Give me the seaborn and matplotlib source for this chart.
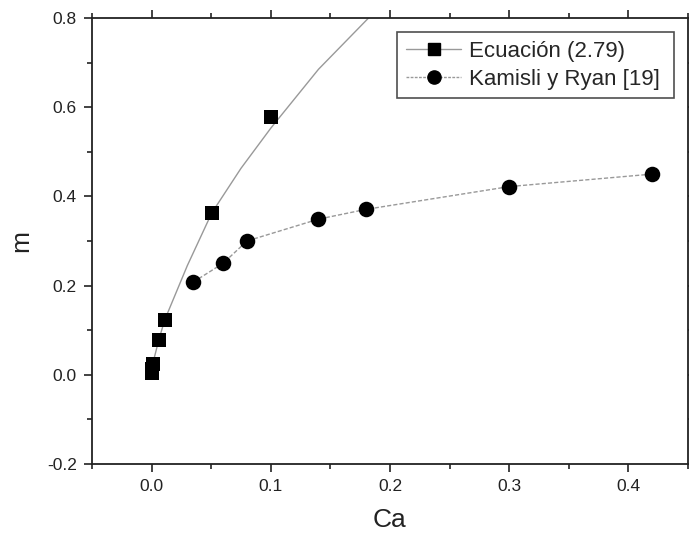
import matplotlib
matplotlib.use("Agg")
import matplotlib.pyplot as plt
from matplotlib.lines import Line2D
from matplotlib.ticker import MultipleLocator
import seaborn as sns
import pandas as pd

# Ecuación (2.79): markers
ecu_ca = [0.0001, 0.0005, 0.001, 0.006, 0.011, 0.0505, 0.1]
ecu_m = [0.003, 0.013, 0.025, 0.078, 0.123, 0.363, 0.578]
# Ecuación (2.79): curve
curve_ca = [0.0, 0.001, 0.006, 0.011, 0.03, 0.0505, 0.075, 0.1, 0.14, 0.182]
curve_m = [0.003, 0.025, 0.078, 0.123, 0.245, 0.363, 0.463, 0.553, 0.685, 0.80]
# Kamisli y Ryan [19]
kr_ca = [0.035, 0.06, 0.08, 0.14, 0.18, 0.30, 0.42]
kr_m = [0.208, 0.250, 0.300, 0.349, 0.371, 0.422, 0.450]

label_ecu = "Ecuación (2.79)"
label_kr = "Kamisli y Ryan [19]"

sns.set_style("ticks")
plt.rcParams["font.family"] = ["Liberation Sans", "DejaVu Sans"]

fig = plt.figure(figsize=(6.89, 5.39), dpi=100)
ax = fig.add_axes([92/689, 1-464/539, (688-92)/689, 446/539])

df_curve = pd.DataFrame({"Ca": curve_ca, "m": curve_m})
df_ecu = pd.DataFrame({"Ca": ecu_ca, "m": ecu_m})
df_kr = pd.DataFrame({"Ca": kr_ca, "m": kr_m})

sns.lineplot(data=df_curve, x="Ca", y="m", ax=ax, color="#999999", linewidth=1.0,
             sort=False, estimator=None)
sns.lineplot(data=df_kr, x="Ca", y="m", ax=ax, color="#999999", linewidth=1.0,
             linestyle=(0, (3, 1.5)), sort=False, estimator=None)
sns.scatterplot(data=df_ecu, x="Ca", y="m", ax=ax, marker="s", s=110, color="black",
                edgecolor="black", linewidth=0, zorder=5)
sns.scatterplot(data=df_kr, x="Ca", y="m", ax=ax, marker="o", s=125, color="black",
                edgecolor="black", linewidth=0, zorder=5)

ax.set_xlim(-0.05, 0.45)
ax.set_ylim(-0.2, 0.8)
ax.xaxis.set_minor_locator(MultipleLocator(0.05))
ax.yaxis.set_minor_locator(MultipleLocator(0.1))
ax.set_xticks([0.0, 0.1, 0.2, 0.3, 0.4])
ax.set_xticklabels(["0.0", "0.1", "0.2", "0.3", "0.4"])
ax.set_yticks([-0.2, 0.0, 0.2, 0.4, 0.6, 0.8])
ax.set_yticklabels(["-0.2", "0.0", "0.2", "0.4", "0.6", "0.8"])

for s in ax.spines.values():
    s.set_visible(True)
    s.set_linewidth(1.3)
    s.set_color("#222222")

ax.tick_params(which="major", direction="out", length=6, width=1.2, labelsize=12.5,
               top=True, right=True, colors="#222222", labelcolor="#222222", pad=5)
ax.tick_params(which="minor", direction="out", length=3.5, width=1.2,
               top=True, right=True, colors="#222222")

ax.set_xlabel("Ca", fontsize=19, labelpad=10, color="#222222")
ax.set_ylabel("m", fontsize=19, labelpad=10, color="#222222")

handles = [
    Line2D([], [], color="#999999", linewidth=1.0, marker="s", markersize=8,
           markerfacecolor="black", markeredgecolor="black"),
    Line2D([], [], color="#999999", linewidth=1.0, linestyle=(0, (2, 1)), marker="o",
           markersize=9.5, markerfacecolor="black", markeredgecolor="black"),
]
x0 = (397 - 92) / 596
x1 = (674 - 92) / 596
y_top = (464 - 32) / 446
h = 65 / 446
leg = ax.legend(handles, [label_ecu, label_kr], loc="upper left",
                bbox_to_anchor=(x0, y_top - h, x1 - x0, h), mode="expand",
                fontsize=16, frameon=True, fancybox=False,
                edgecolor="#222222", handlelength=2.5, handletextpad=0.35,
                borderpad=0.4, labelspacing=0.3, borderaxespad=0)
leg.get_frame().set_linewidth(1.2)

fig.savefig("out.png", dpi=100)
